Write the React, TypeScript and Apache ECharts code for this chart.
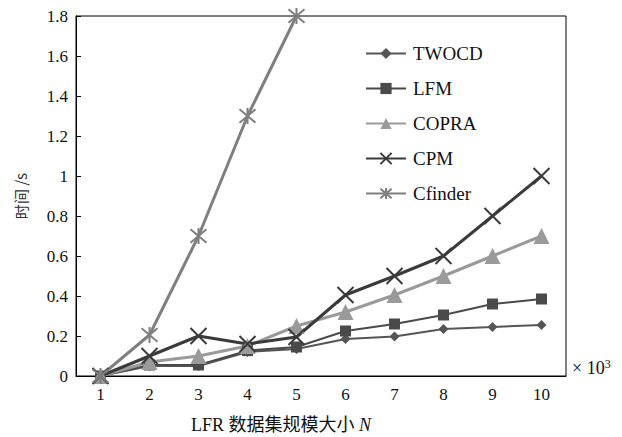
import React, { useEffect, useRef } from "react";
import * as echarts from "echarts";

const categories = ["1", "2", "3", "4", "5", "6", "7", "8", "9", "10"];
const twocd = [0, 0.05, 0.05, 0.12, 0.135, 0.185, 0.197, 0.235, 0.245, 0.255];
const lfm = [0, 0.055, 0.055, 0.127, 0.145, 0.225, 0.26, 0.305, 0.36, 0.385];
const copra = [0, 0.07, 0.1, 0.15, 0.25, 0.32, 0.405, 0.5, 0.6, 0.7];
const cpm = [0, 0.1, 0.2, 0.16, 0.195, 0.405, 0.5, 0.6, 0.8, 1.0];
const cfinder = [0, 0.205, 0.7, 1.3, 1.8];
const yTicks = [0, 0.2, 0.4, 0.6, 0.8, 1, 1.2, 1.4, 1.6, 1.8];

const X_PATH = "path://M0,0L10,10M10,0L0,10";
const STAR_PATH = "path://M0,0L10,10M10,0L0,10M5,-1L5,11";

const SERIF = "'Liberation Serif', 'Times New Roman', 'Noto Sans CJK SC', serif";

export default function App() {
  const ref = useRef<HTMLDivElement>(null);
  useEffect(() => {
    if (!ref.current) return;
    const chart = echarts.init(ref.current, undefined, { renderer: "svg" });
    const mk = (
      name: string,
      data: number[],
      color: string,
      lw: number,
      symbol: string,
      size: number,
      stroke: boolean
    ) => ({
      name,
      type: "line",
      data,
      symbol,
      symbolSize: size,
      showAllSymbol: true,
      lineStyle: { color, width: lw },
      itemStyle: stroke
        ? { color: "rgba(0,0,0,0)", borderColor: color, borderWidth: 2 }
        : { color, borderColor: color, borderWidth: 0 },
      emphasis: { disabled: true },
    });
    chart.setOption({
      animation: false,
      backgroundColor: "#fff",
      grid: {
        left: 76,
        right: 56,
        top: 16,
        bottom: 61,
        show: true,
        borderColor: "#000",
        borderWidth: 1,
        backgroundColor: "rgba(0,0,0,0)",
      },
      legend: {
        orient: "vertical",
        left: 360,
        top: 39,
        itemWidth: 40,
        itemHeight: 14,
        itemGap: 16,
        textStyle: { fontFamily: SERIF, fontSize: 19, color: "#111", padding: [0, 0, 0, 2] },
        data: ["TWOCD", "LFM", "COPRA", "CPM", "Cfinder"],
      },
      xAxis: {
        type: "category",
        data: categories,
        boundaryGap: true,
        axisLine: { lineStyle: { color: "#000", width: 1 } },
        axisTick: { inside: true, length: 5, lineStyle: { color: "#000" } },
        axisLabel: { fontFamily: SERIF, fontSize: 17, color: "#111", margin: 10 },
      },
      yAxis: {
        type: "value",
        min: 0,
        max: 1.8,
        interval: 0.2,
        splitLine: { show: false },
        axisLine: { show: true, lineStyle: { color: "#000", width: 1 } },
        axisTick: { show: true, inside: true, length: 5, lineStyle: { color: "#000" } },
        axisLabel: {
          fontFamily: SERIF,
          fontSize: 17,
          color: "#111",
          margin: 8,
          formatter: (v: number) => {
            const t = yTicks.find((x) => Math.abs(x - v) < 1e-6);
            return t === undefined ? "" : String(t);
          },
        },
        name: "时间 /s",
        nameLocation: "middle",
        nameGap: 48,
        nameRotate: 90,
        nameTextStyle: { fontFamily: "'Noto Sans CJK SC', sans-serif", fontSize: 15, color: "#333" },
      },
      graphic: [
        {
          type: "text",
          left: 572,
          top: 358,
          style: {
            text: "{a|× 10}{s|3}",
            rich: {
              a: { fontFamily: SERIF, fontSize: 18, fill: "#111" },
              s: { fontFamily: SERIF, fontSize: 12, fill: "#111", verticalAlign: "top", padding: [0, 0, 8, 0] },
            },
          },
        },
        {
          type: "text",
          left: 191,
          top: 416,
          style: {
            text: "{a|LFR 数据集规模大小 }{b|N}",
            rich: {
              a: { fontFamily: SERIF, fontSize: 18, fill: "#111" },
              b: { fontFamily: SERIF, fontSize: 18, fill: "#111", fontStyle: "italic" },
            },
          },
        },
      ],
      series: [
        mk("TWOCD", twocd, "#555555", 2, "diamond", 10, false),
        mk("LFM", lfm, "#4a4a4a", 2, "rect", 11, false),
        mk("COPRA", copra, "#9a9a9a", 3, "triangle", 16, false),
        mk("CPM", cpm, "#3a3a3a", 3, X_PATH, 16, true),
        mk("Cfinder", cfinder, "#7f7f7f", 3, STAR_PATH, 16, true),
      ],
    });
    return () => chart.dispose();
  }, []);
  return <div ref={ref} style={{ width: 622, height: 437, marginLeft: -8, marginTop: -8 }} />;
}
